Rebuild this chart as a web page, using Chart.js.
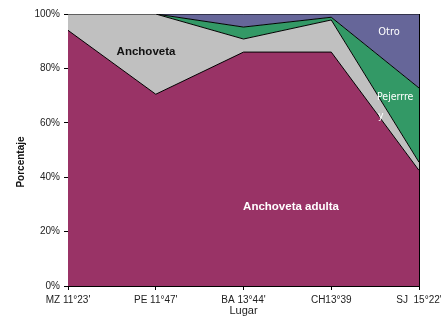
<!DOCTYPE html>
<html>
<head>
<meta charset="utf-8">
<script src="https://cdn.jsdelivr.net/npm/chart.js@4.4.0/dist/chart.umd.min.js"></script>
<style>
  body { margin: 0; background: #fff; }
</style>
</head>
<body>
<canvas id="myChart" width="441" height="318"></canvas>
<script>
// sites along the coast
const lugares = ["MZ 11°23'", "PE 11°47'", "BA 13°44'", "CH13°39", "SJ  15°22'"];

// percent of each group per site
const anchovetaAdulta = [94, 70.5, 86, 86, 42.5];
const anchoveta = [6, 29.5, 4.8, 11.8, 3];
const pejerrey = [0, 0, 4.4, 1, 27.3];
const otro = [0, 0, 4.8, 1.2, 27.2];

const yTicks = [0, 20, 40, 60, 80, 100];

const tickFont = { family: "'Liberation Sans Narrow', 'Liberation Sans', Arial", size: 10 };

// area labels and the y title, drawn on top
const textPlugin = {
    id: "areaText",
    afterDatasetsDraw(chart) {
        const c = chart.ctx;
        const a = chart.chartArea;
        c.save();
        c.strokeStyle = "#000";
        c.lineWidth = 1;
        c.beginPath();
        c.moveTo(a.right + 0.5, a.top);
        c.lineTo(a.right + 0.5, a.bottom);
        c.stroke();

        c.textAlign = "center";
        c.textBaseline = "middle";
        c.font = "bold 11.5px 'Liberation Sans', Arial";
        c.fillStyle = "#111";
        c.fillText("Anchoveta", 146, 52);
        c.fillStyle = "#fff";
        c.fillText("Anchoveta adulta", 291, 207);

        c.font = "11px 'DejaVu Sans Condensed', 'Liberation Sans Narrow', Arial";
        c.fillText("Otro", 389, 32);
        c.font = "10.5px 'DejaVu Sans Condensed', 'Liberation Sans Narrow', Arial";
        c.textAlign = "left";
        c.fillText("Pejerrre", 377, 97);
        c.fillText("y", 378, 116);

        c.translate(21, 162);
        c.rotate(-Math.PI / 2);
        c.textAlign = "center";
        c.fillStyle = "#111";
        c.font = "bold 10px 'Liberation Sans', Arial";
        c.fillText("Porcentaje", 0, 0);
        c.restore();
    }
};

function area(label, values, color, fill) {
    return {
        label: label,
        data: values,
        backgroundColor: color,
        borderColor: "#000",
        borderWidth: 1,
        fill: fill,
        tension: 0,
        pointRadius: 0,
    };
}

const ctx = document.getElementById("myChart").getContext("2d");
const myChart = new Chart(ctx, {
    type: "line",
    data: {
        labels: lugares,
        datasets: [
            area("Anchoveta adulta", anchovetaAdulta, "#993366", "origin"),
            area("Anchoveta", anchoveta, "#C0C0C0", "-1"),
            area("Pejerrey", pejerrey, "#339966", "-1"),
            area("Otro", otro, "#666699", "-1"),
        ],
    },
    options: {
        responsive: false,
        animation: false,
        layout: { padding: { top: 14, right: 22, left: 0, bottom: 0 } },
        plugins: {
            legend: { display: false },
            tooltip: { enabled: false },
        },
        scales: {
            x: {
                offset: false,
                grid: { display: true, drawOnChartArea: false, tickLength: 4, color: "#000" },
                border: { display: true, color: "#000", width: 1 },
                ticks: { color: "#222", font: tickFont, padding: 4, maxRotation: 0, autoSkip: false },
                title: {
                    display: true,
                    text: "Lugar",
                    color: "#222",
                    font: { family: "'Liberation Sans Narrow', Arial", size: 11 },
                    padding: 0,
                },
                afterFit(scale) {
                    scale.height = 32;
                    scale.paddingLeft = 0;
                    scale.paddingRight = 0;
                },
            },
            y: {
                stacked: true,
                min: 0,
                max: 100,
                afterBuildTicks(scale) { scale.ticks = yTicks.map(v => ({ value: v })); },
                grid: { display: true, drawOnChartArea: false, tickLength: 4, color: "#000" },
                border: { display: true, color: "#000", width: 1 },
                ticks: {
                    color: "#222",
                    font: tickFont,
                    padding: 4,
                    callback: v => v + "%",
                },
                afterFit(scale) {
                    scale.width = 68;
                    scale.paddingTop = 0;
                    scale.paddingBottom = 0;
                },
            },
        },
    },
    plugins: [textPlugin],
});
</script>
</body>
</html>
